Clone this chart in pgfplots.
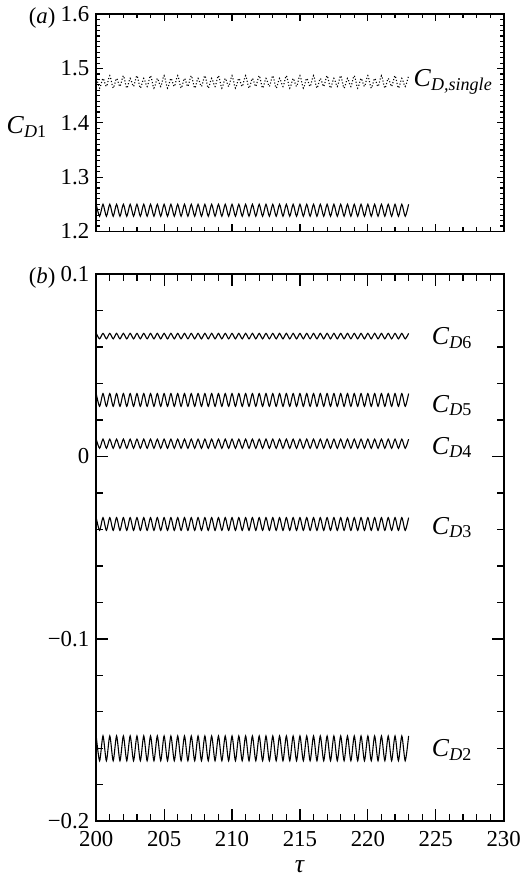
\documentclass[border=0pt]{standalone}
\usepackage{fontspec}
\setmainfont{Liberation Serif}
\usepackage{pgfplots}
\pgfplotsset{compat=1.18}
\usepackage{pgfplotstable}

% drag coefficients (peaks and troughs)
\pgfplotstableread{
x cs c1 c2 c3 c4 c5 c6
200.00 1.487 1.250 -0.1532 -0.0335 0.0095 0.0345 0.0675
200.25 1.464 1.228 -0.1668 -0.0405 0.0045 0.0275 0.0645
200.50 1.482 1.250 -0.1532 -0.0335 0.0095 0.0345 0.0675
200.75 1.467 1.228 -0.1668 -0.0405 0.0045 0.0275 0.0645
201.00 1.487 1.250 -0.1532 -0.0335 0.0095 0.0345 0.0675
201.25 1.464 1.228 -0.1668 -0.0405 0.0045 0.0275 0.0645
201.50 1.482 1.250 -0.1532 -0.0335 0.0095 0.0345 0.0675
201.75 1.467 1.228 -0.1668 -0.0405 0.0045 0.0275 0.0645
202.00 1.487 1.250 -0.1532 -0.0335 0.0095 0.0345 0.0675
202.25 1.464 1.228 -0.1668 -0.0405 0.0045 0.0275 0.0645
202.50 1.482 1.250 -0.1532 -0.0335 0.0095 0.0345 0.0675
202.75 1.467 1.228 -0.1668 -0.0405 0.0045 0.0275 0.0645
203.00 1.487 1.250 -0.1532 -0.0335 0.0095 0.0345 0.0675
203.25 1.464 1.228 -0.1668 -0.0405 0.0045 0.0275 0.0645
203.50 1.482 1.250 -0.1532 -0.0335 0.0095 0.0345 0.0675
203.75 1.467 1.228 -0.1668 -0.0405 0.0045 0.0275 0.0645
204.00 1.487 1.250 -0.1532 -0.0335 0.0095 0.0345 0.0675
204.25 1.464 1.228 -0.1668 -0.0405 0.0045 0.0275 0.0645
204.50 1.482 1.250 -0.1532 -0.0335 0.0095 0.0345 0.0675
204.75 1.467 1.228 -0.1668 -0.0405 0.0045 0.0275 0.0645
205.00 1.487 1.250 -0.1532 -0.0335 0.0095 0.0345 0.0675
205.25 1.464 1.228 -0.1668 -0.0405 0.0045 0.0275 0.0645
205.50 1.482 1.250 -0.1532 -0.0335 0.0095 0.0345 0.0675
205.75 1.467 1.228 -0.1668 -0.0405 0.0045 0.0275 0.0645
206.00 1.487 1.250 -0.1532 -0.0335 0.0095 0.0345 0.0675
206.25 1.464 1.228 -0.1668 -0.0405 0.0045 0.0275 0.0645
206.50 1.482 1.250 -0.1532 -0.0335 0.0095 0.0345 0.0675
206.75 1.467 1.228 -0.1668 -0.0405 0.0045 0.0275 0.0645
207.00 1.487 1.250 -0.1532 -0.0335 0.0095 0.0345 0.0675
207.25 1.464 1.228 -0.1668 -0.0405 0.0045 0.0275 0.0645
207.50 1.482 1.250 -0.1532 -0.0335 0.0095 0.0345 0.0675
207.75 1.467 1.228 -0.1668 -0.0405 0.0045 0.0275 0.0645
208.00 1.487 1.250 -0.1532 -0.0335 0.0095 0.0345 0.0675
208.25 1.464 1.228 -0.1668 -0.0405 0.0045 0.0275 0.0645
208.50 1.482 1.250 -0.1532 -0.0335 0.0095 0.0345 0.0675
208.75 1.467 1.228 -0.1668 -0.0405 0.0045 0.0275 0.0645
209.00 1.487 1.250 -0.1532 -0.0335 0.0095 0.0345 0.0675
209.25 1.464 1.228 -0.1668 -0.0405 0.0045 0.0275 0.0645
209.50 1.482 1.250 -0.1532 -0.0335 0.0095 0.0345 0.0675
209.75 1.467 1.228 -0.1668 -0.0405 0.0045 0.0275 0.0645
210.00 1.487 1.250 -0.1532 -0.0335 0.0095 0.0345 0.0675
210.25 1.464 1.228 -0.1668 -0.0405 0.0045 0.0275 0.0645
210.50 1.482 1.250 -0.1532 -0.0335 0.0095 0.0345 0.0675
210.75 1.467 1.228 -0.1668 -0.0405 0.0045 0.0275 0.0645
211.00 1.487 1.250 -0.1532 -0.0335 0.0095 0.0345 0.0675
211.25 1.464 1.228 -0.1668 -0.0405 0.0045 0.0275 0.0645
211.50 1.482 1.250 -0.1532 -0.0335 0.0095 0.0345 0.0675
211.75 1.467 1.228 -0.1668 -0.0405 0.0045 0.0275 0.0645
212.00 1.487 1.250 -0.1532 -0.0335 0.0095 0.0345 0.0675
212.25 1.464 1.228 -0.1668 -0.0405 0.0045 0.0275 0.0645
212.50 1.482 1.250 -0.1532 -0.0335 0.0095 0.0345 0.0675
212.75 1.467 1.228 -0.1668 -0.0405 0.0045 0.0275 0.0645
213.00 1.487 1.250 -0.1532 -0.0335 0.0095 0.0345 0.0675
213.25 1.464 1.228 -0.1668 -0.0405 0.0045 0.0275 0.0645
213.50 1.482 1.250 -0.1532 -0.0335 0.0095 0.0345 0.0675
213.75 1.467 1.228 -0.1668 -0.0405 0.0045 0.0275 0.0645
214.00 1.487 1.250 -0.1532 -0.0335 0.0095 0.0345 0.0675
214.25 1.464 1.228 -0.1668 -0.0405 0.0045 0.0275 0.0645
214.50 1.482 1.250 -0.1532 -0.0335 0.0095 0.0345 0.0675
214.75 1.467 1.228 -0.1668 -0.0405 0.0045 0.0275 0.0645
215.00 1.487 1.250 -0.1532 -0.0335 0.0095 0.0345 0.0675
215.25 1.464 1.228 -0.1668 -0.0405 0.0045 0.0275 0.0645
215.50 1.482 1.250 -0.1532 -0.0335 0.0095 0.0345 0.0675
215.75 1.467 1.228 -0.1668 -0.0405 0.0045 0.0275 0.0645
216.00 1.487 1.250 -0.1532 -0.0335 0.0095 0.0345 0.0675
216.25 1.464 1.228 -0.1668 -0.0405 0.0045 0.0275 0.0645
216.50 1.482 1.250 -0.1532 -0.0335 0.0095 0.0345 0.0675
216.75 1.467 1.228 -0.1668 -0.0405 0.0045 0.0275 0.0645
217.00 1.487 1.250 -0.1532 -0.0335 0.0095 0.0345 0.0675
217.25 1.464 1.228 -0.1668 -0.0405 0.0045 0.0275 0.0645
217.50 1.482 1.250 -0.1532 -0.0335 0.0095 0.0345 0.0675
217.75 1.467 1.228 -0.1668 -0.0405 0.0045 0.0275 0.0645
218.00 1.487 1.250 -0.1532 -0.0335 0.0095 0.0345 0.0675
218.25 1.464 1.228 -0.1668 -0.0405 0.0045 0.0275 0.0645
218.50 1.482 1.250 -0.1532 -0.0335 0.0095 0.0345 0.0675
218.75 1.467 1.228 -0.1668 -0.0405 0.0045 0.0275 0.0645
219.00 1.487 1.250 -0.1532 -0.0335 0.0095 0.0345 0.0675
219.25 1.464 1.228 -0.1668 -0.0405 0.0045 0.0275 0.0645
219.50 1.482 1.250 -0.1532 -0.0335 0.0095 0.0345 0.0675
219.75 1.467 1.228 -0.1668 -0.0405 0.0045 0.0275 0.0645
220.00 1.487 1.250 -0.1532 -0.0335 0.0095 0.0345 0.0675
220.25 1.464 1.228 -0.1668 -0.0405 0.0045 0.0275 0.0645
220.50 1.482 1.250 -0.1532 -0.0335 0.0095 0.0345 0.0675
220.75 1.467 1.228 -0.1668 -0.0405 0.0045 0.0275 0.0645
221.00 1.487 1.250 -0.1532 -0.0335 0.0095 0.0345 0.0675
221.25 1.464 1.228 -0.1668 -0.0405 0.0045 0.0275 0.0645
221.50 1.482 1.250 -0.1532 -0.0335 0.0095 0.0345 0.0675
221.75 1.467 1.228 -0.1668 -0.0405 0.0045 0.0275 0.0645
222.00 1.487 1.250 -0.1532 -0.0335 0.0095 0.0345 0.0675
222.25 1.464 1.228 -0.1668 -0.0405 0.0045 0.0275 0.0645
222.50 1.482 1.250 -0.1532 -0.0335 0.0095 0.0345 0.0675
222.75 1.467 1.228 -0.1668 -0.0405 0.0045 0.0275 0.0645
223.00 1.487 1.250 -0.1532 -0.0335 0.0095 0.0345 0.0675
}\cdtable

\newcommand{\tickfont}{\fontsize{11.5}{13.5}\selectfont}
\newcommand{\cfont}{\fontsize{13}{15.5}\selectfont}

\pgfplotsset{panel/.style={scale only axis, width=205.5pt, xmin=200, xmax=230,
  xtick={200,205,...,230}, minor x tick num=4, tick align=inside, clip=false,
  axis line style={line width=0.9pt}, tick style={line width=0.6pt, black},
  tick label style={font=\tickfont}, label style={font=\cfont},
  /pgf/number format/assume math mode=true},
  cdline/.style={black, line width=0.55pt, smooth, tension=0.45}}

\newcommand{\cd}[1]{\textit{C}\textsubscript{\textit{D}#1}}

\begin{document}
\begin{tikzpicture}
\begin{axis}[panel, at={(0,0)}, anchor=south west, height=109.5pt,
  ymin=1.2, ymax=1.6, ytick={1.2,1.3,1.4,1.5,1.6}, yticklabels={1.2,1.3,1.4,1.5,1.6},
  minor y tick num=9, xticklabels={}, major tick length=3.5pt, minor tick length=2pt,
  ylabel={\cd{1}}, ylabel style={rotate=-90, yshift=-2pt}]
\addplot[cdline, densely dotted] table[x=x,y=cs]{\cdtable};
\addplot[cdline] table[x=x,y=c1]{\cdtable};
\node[anchor=west, font=\cfont, inner sep=1pt] at (axis cs:223.2,1.475) {\textit{C}\textsubscript{\textit{D,single}}};
\node[anchor=east, font=\tickfont] at (rel axis cs:0,1) [xshift=-17pt,yshift=-2pt] {(\textit{a})};
\end{axis}
\begin{axis}[panel, at={(0,-21.5pt)}, anchor=north west, height=276pt,
  ymin=-0.2, ymax=0.1, ytick={-0.2,-0.1,0,0.1}, yticklabels={−0.2,−0.1,0,0.1},
  minor y tick num=4, xticklabels={200,205,210,215,220,225,230},
  xticklabel style={yshift=-1.5pt},
  major tick length=6pt, minor tick length=3.5pt, xlabel={\textit{τ}}]
\addplot[cdline] table[x=x,y=c6]{\cdtable};
\addplot[cdline] table[x=x,y=c5]{\cdtable};
\addplot[cdline] table[x=x,y=c4]{\cdtable};
\addplot[cdline] table[x=x,y=c3]{\cdtable};
\addplot[cdline] table[x=x,y=c2]{\cdtable};
\node[anchor=west, font=\cfont] at (axis cs:224.2,0.065) {\cd{6}};
\node[anchor=west, font=\cfont] at (axis cs:224.2,0.028) {\cd{5}};
\node[anchor=west, font=\cfont] at (axis cs:224.2,0.005) {\cd{4}};
\node[anchor=west, font=\cfont] at (axis cs:224.2,-0.039) {\cd{3}};
\node[anchor=west, font=\cfont] at (axis cs:224.2,-0.161) {\cd{2}};
\node[anchor=east, font=\tickfont] at (rel axis cs:0,1) [xshift=-17pt,yshift=-2pt] {(\textit{b})};
\end{axis}
\end{tikzpicture}
\end{document}
